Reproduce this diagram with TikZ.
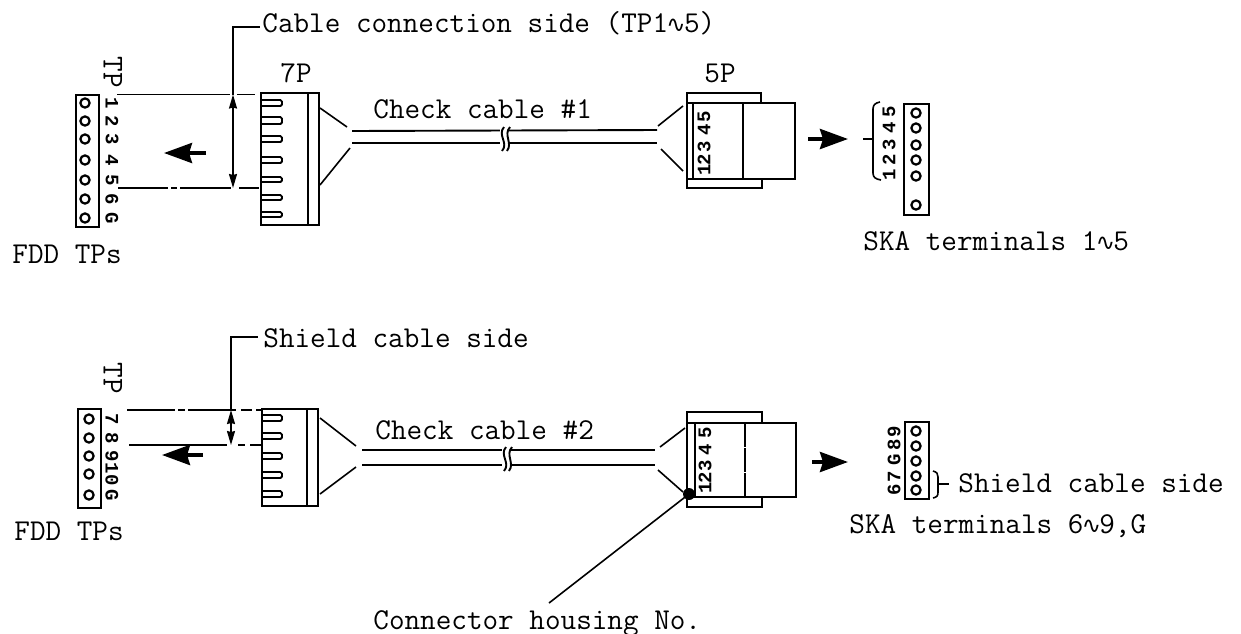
\documentclass[tikz,border=0pt]{standalone}
\usepackage{fontspec}
\newfontfamily\symfont{DejaVu Sans}
\newfontfamily\digfont{Liberation Mono}
\usetikzlibrary{arrows.meta}
\newcommand{\wv}{\makebox[7.95pt][c]{\symfont\fontsize{11.5pt}{12pt}\selectfont\char"223F}}
\newcommand{\pinrow}[3]{% x-left, y-top, y-bottom
  \draw[part,rounded corners=0.8pt] (#1,#2) -- (282,#2) -- (282,#3) -- (#1,#3);}
\newcommand{\cablebreak}[3]{% x, y-top, y-bottom
  \fill[white] (#1-3,#2) rectangle (#1+5,#3);
  \draw[part] (#1+1,#2) .. controls (#1-6,#2+8) and (#1+6,#3-8) .. (#1-1,#3);
  \draw[part] (#1+7,#2) .. controls (#1,#2+8) and (#1+10,#3-8) .. (#1+4,#3);}
\tikzset{
  part/.style={line width=0.95pt,black},
  thinline/.style={line width=0.8pt,black},
  label/.style={font=\ttfamily\fontsize{15.15pt}{16pt}\selectfont,inner sep=0pt,anchor=base west},
  digit/.style={font=\digfont\fontsize{9.5pt}{10pt}\selectfont\bfseries,inner sep=0pt},
  tplabel/.style={font=\ttfamily\fontsize{15.15pt}{16pt}\selectfont,inner sep=0pt,rotate=-90},
  hole/.style={circle,draw,line width=1.1pt,minimum size=4.6pt,inner sep=0pt},
  bigarrow/.style={line width=1.9pt,-{Stealth[length=14pt,width=10pt,inset=1.5pt]}},
  dimarrow/.style={line width=0.8pt,{Stealth[length=7pt,width=4pt,inset=0.5pt]}-{Stealth[length=7pt,width=4pt,inset=0.5pt]}},
}
\begin{document}
\begin{tikzpicture}[x=0.5pt,y=-0.5pt]
\useasboundingbox[fill=white] (0,0) rectangle (1241,633);

% ---------- upper assembly ----------
\draw[part] (76,95) rectangle (99,227);
\foreach \n/\yy/\t in {a/103/1,b/121/2,c/139/3,d/160/4,e/180/5,f/199/6,g/218/G}{
  \node[hole] (ta\n) at (85,\yy) {};
  \node[digit,rotate=-90] (la\n) at (112,\yy) {\t};
}
\node[tplabel] (tpa) at (113,72) {TP};
\node[label] (fdda) at (12,263) {FDD TPs};

\draw[part] (261,93) rectangle (319,225);
\draw[part] (308,93) -- (308,225);
\foreach \u/\v in {100/106,117/124,136/142,157/163,177/182,195/200,212/217}{\pinrow{261}{\u}{\v}}
\node[label] (sevena) at (280,82) {7P};

\coordinate (dla1) at (117,94.5);
\coordinate (dla2) at (255,94.5);
\coordinate (dlb1) at (118,188);
\coordinate (dlb2) at (261,188);
\draw[thinline,dash pattern=on 56.5pt off 3.5pt on 9pt] (dla1) -- (dla2);
\draw[thinline,dash pattern=on 25pt off 1.5pt on 3pt off 1.5pt on 25.5pt off 4pt on 10pt] (dlb1) -- (dlb2);
\coordinate (dima) at (233,94.5);
\coordinate (dimb) at (233,188);
\draw[dimarrow] (dima) -- (dimb);
\node[label] (cablelab) at (262,32) {Cable connection side (TP1\wv5)};
\coordinate (leadera) at (233,27);
\draw[thinline] (dima) -- (leadera) -- (260,27);

\coordinate (arrowaS) at (206,153);
\coordinate (arrowaE) at (164,153);
\draw[bigarrow] (arrowaS) -- (arrowaE);

\draw[thinline] (320,108) -- (347,127);
\draw[thinline] (320,185) -- (350,148);
\coordinate (caa1) at (352,131);
\coordinate (caa2) at (657,130);
\coordinate (cab1) at (352,143);
\coordinate (cab2) at (657,143);
\draw[part] (caa1) -- (caa2);
\draw[part] (cab1) -- (cab2);
\cablebreak{503}{127}{151}
\node[label] (checka) at (373,118) {Check cable \#1};
\draw[thinline] (658,126) -- (683,106);
\draw[thinline] (661,149) -- (683,171);

\draw[part] (687,103) -- (687,93) -- (761,93) -- (761,103);
\draw[part] (687,179) -- (687,188) -- (762,188) -- (762,179);
\draw[part] (687,103) rectangle (795,179);
\draw[part] (693,103) -- (693,179);
\draw[part] (743,103) -- (743,179);
\foreach \yy/\t in {117/5,130/4,147/3,160/2,170/1}{
  \node[digit,rotate=90] at (704,\yy) {\t};
}
\node[label] (fivea) at (704,82) {5P};

\coordinate (arrowbS) at (808,139);
\coordinate (arrowbE) at (848,139);
\draw[bigarrow] (arrowbS) -- (arrowbE);

\draw[thinline] (880,102) .. controls (875,103) and (873,105) .. (873,109) -- (873,173) .. controls (873,177) and (875,179) .. (881,180);
\draw[thinline] (863,139) -- (873,139);
\foreach \yy/\t in {112/5,128/4,145/3,160/2,175/1}{
  \node[digit,rotate=90] at (889,\yy) {\t};
}
\draw[part] (904,104) rectangle (929,215);
\foreach \yy in {113,128,145,160,176,205}{ \node[hole] at (916,\yy) {}; }
\node[label] (skaa) at (863,250) {SKA terminals 1\wv5};

% ---------- lower assembly ----------
\draw[part] (78,409) rectangle (101,508);
\foreach \n/\yy/\t in {a/419/7,b/438/8,c/456/9,d/474/10,e/495/G}{
  \node[hole] (tb\n) at (89,\yy) {};
  \node[digit,rotate=-90] (lb\n) at (112,\yy) {\t};
}
\node[tplabel] (tpb) at (113,378) {TP};
\node[label] (fddb) at (14,540) {FDD TPs};

\draw[part] (262,409) rectangle (318,506);
\draw[part] (307,409) -- (307,506);
\foreach \u/\v in {415/421,433/439,453/459,472/478,491/497}{\pinrow{262}{\u}{\v}}

\coordinate (dlc1) at (127,410);
\coordinate (dlc2) at (262,410);
\coordinate (dld1) at (129,445);
\coordinate (dld2) at (261,445);
\draw[thinline,dash pattern=on 24pt off 1.5pt on 3.5pt off 1.5pt on 24pt off 2.5pt on 5.5pt off 2pt on 5pt] (dlc1) -- (dlc2);
\draw[thinline,dash pattern=on 49pt off 5.5pt on 3.5pt off 2.5pt on 5.5pt] (dld1) -- (dld2);
\coordinate (dimc) at (231,410);
\coordinate (dimd) at (231,445);
\draw[dimarrow] (dimc) -- (dimd);
\node[label] (shielda) at (263,347) {Shield cable side};
\coordinate (leaderb) at (231,337);
\draw[thinline] (dimc) -- (leaderb) -- (258,337);

\coordinate (arrowcS) at (203,455);
\coordinate (arrowcE) at (162,455);
\draw[bigarrow] (arrowcS) -- (arrowcE);

\draw[thinline] (320,418) -- (356,446);
\draw[thinline] (320,494) -- (356,467);
\coordinate (cba1) at (362,450);
\coordinate (cba2) at (655,450);
\coordinate (cbb1) at (362,465);
\coordinate (cbb2) at (655,465);
\draw[part] (cba1) -- (cba2);
\draw[part] (cbb1) -- (cbb2);
\cablebreak{505}{447}{471}
\node[label] (checkb) at (375,439) {Check cable \#2};
\draw[thinline] (660,447) -- (685,428);
\draw[thinline] (658,470) -- (683,492);

\draw[part] (687,423) -- (687,412) -- (762,412) -- (762,423);
\draw[part] (687,497) -- (687,507) -- (762,507) -- (762,497);
\draw[part] (687,423) rectangle (796,497);
\draw[part] (695,423) -- (695,497);
\draw[thinline,dash pattern=on 12pt off 0.6pt] (745,423) -- (745,497);
\foreach \yy/\t in {433/5,450/4,466/3,478/2,488/1}{
  \node[digit,rotate=90] at (705,\yy) {\t};
}
\node[circle,fill=black,minimum size=6pt,inner sep=0pt] (housing) at (689,494) {};
\node[label] (conn) at (373,629) {Connector housing No.};
\coordinate (leaderc) at (549,603);
\draw[thinline] (housing.center) -- (leaderc);

\coordinate (arrowdS) at (812,462);
\coordinate (arrowdE) at (848,462);
\draw[bigarrow] (arrowdS) -- (arrowdE);

\foreach \yy/\t in {432/9,445/8,460/G,477/7,490/6}{
  \node[digit,rotate=90] at (894,\yy) {\t};
}
\draw[part] (905,422) rectangle (929,499);
\foreach \yy in {431,446,461,476,490}{ \node[hole] at (916,\yy) {}; }
\draw[thinline] (933,471) .. controls (937,472) and (938,474) .. (938,477) -- (938,492) .. controls (938,496) and (937,497) .. (933,498);
\draw[thinline] (938,484) -- (949,484);
\node[label] (shieldb) at (958,492) {Shield cable side};
\node[label] (skab) at (849,533) {SKA terminals 6\wv9,G};
\end{tikzpicture}
\end{document}
